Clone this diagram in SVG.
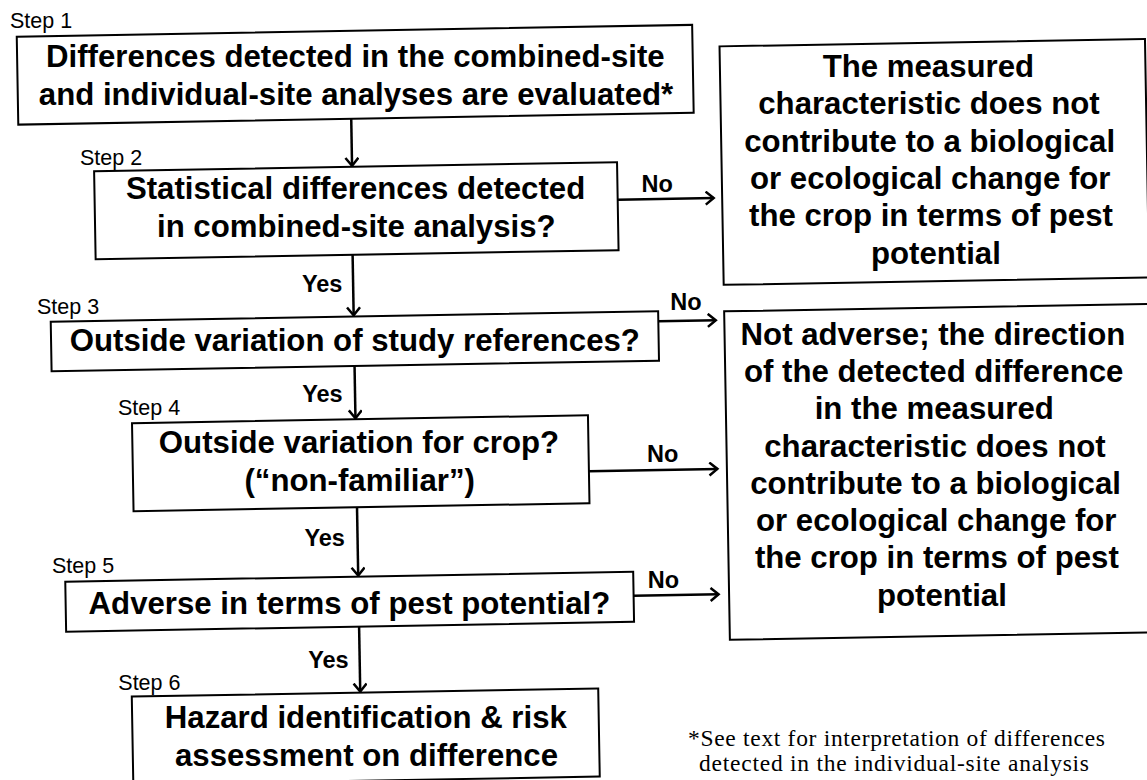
<svg xmlns="http://www.w3.org/2000/svg" width="1147" height="780" viewBox="0 0 1147 780">
<style>
.box{fill:#fff;stroke:#000;stroke-width:2}
.t{font-family:"Liberation Sans",Arial,sans-serif;font-weight:bold;font-size:31.2px;fill:#000;text-anchor:middle}
.lbl{font-family:"Liberation Sans",Arial,sans-serif;font-weight:bold;font-size:23.5px;fill:#000;text-anchor:middle}
.step{font-family:"Liberation Sans",Arial,sans-serif;font-size:21.5px;fill:#000}
.fn{font-family:"Liberation Serif","Times New Roman",serif;font-size:23.5px;fill:#000}
.c{stroke:#000;stroke-width:2.5;fill:none}
</style>
<defs>
<marker id="ah" markerUnits="userSpaceOnUse" markerWidth="14" markerHeight="16" refX="9" refY="7" orient="auto" viewBox="0 0 14 16">
<path d="M1,0.5 L9,7 L1,13.5" fill="none" stroke="#000" stroke-width="2.5"/>
</marker>
</defs>
<rect x="0" y="0" width="1147" height="780" fill="#fff"/>
<g id="connectors">
<g transform="rotate(-1 573 390)">
<line class="c" x1="356" y1="115" x2="356" y2="162" marker-end="url(#ah)"/>
<line class="c" x1="621" y1="200.5" x2="717" y2="200.5" marker-end="url(#ah)"/>
<line class="c" x1="355" y1="251" x2="355" y2="311.5" marker-end="url(#ah)"/>
<line class="c" x1="659.5" y1="322.7" x2="717" y2="322.7" marker-end="url(#ah)"/>
<line class="c" x1="355" y1="362.2" x2="355" y2="414.5" marker-end="url(#ah)"/>
<line class="c" x1="587.5" y1="471.4" x2="716" y2="471.4" marker-end="url(#ah)"/>
<line class="c" x1="355" y1="503.5" x2="355" y2="571.8" marker-end="url(#ah)"/>
<line class="c" x1="630" y1="596.8" x2="715" y2="596.8" marker-end="url(#ah)"/>
<line class="c" x1="355" y1="622.8" x2="355" y2="687.8" marker-end="url(#ah)"/>
</g>
<text class="lbl" x="657.1" y="191.5">No</text>
<text class="lbl" x="322.2" y="291.9">Yes</text>
<text class="lbl" x="686" y="310">No</text>
<text class="lbl" x="322.4" y="401.7">Yes</text>
<text class="lbl" x="662.6" y="461.8">No</text>
<text class="lbl" x="324.7" y="546.4">Yes</text>
<text class="lbl" x="663.5" y="587.5">No</text>
<text class="lbl" x="328.4" y="668">Yes</text>
</g>
<g id="step1">
<text class="step" x="10" y="28">Step 1</text>
<rect class="box" x="23" y="27" width="675.5" height="88" transform="rotate(-1 573 390)"/>
<text class="t" x="355.3" y="66.7">Differences detected in the combined-site</text>
<text class="t" x="356" y="104.5">and individual-site analyses are evaluated*</text>
</g>
<g id="step2">
<text class="step" x="80" y="165">Step 2</text>
<rect class="box" x="98" y="163" width="523" height="88" transform="rotate(-1 573 390)"/>
<text class="t" x="355.6" y="199.2">Statistical differences detected</text>
<text class="t" x="356.3" y="236.9">in combined-site analysis?</text>
</g>
<g id="outcome1">
<rect class="box" x="725.5" y="49" width="425.5" height="238.5" transform="rotate(-1 573 390)"/>
<text class="t">
<tspan x="932.7" y="77.1">The measured</tspan>
<tspan x="933.3" y="114.4">characteristic does not</tspan>
<tspan x="934" y="151.7">contribute to a biological</tspan>
<tspan x="934.6" y="189">or ecological change for</tspan>
<tspan x="935.3" y="226.3">the crop in terms of pest</tspan>
<tspan x="935.9" y="263.6">potential</tspan>
</text>
</g>
<g id="step3">
<text class="step" x="37" y="314">Step 3</text>
<rect class="box" x="52" y="312.7" width="607.5" height="49.5" transform="rotate(-1 573 390)"/>
<text class="t" x="354.8" y="351.1">Outside variation of study references?</text>
</g>
<g id="outcome2">
<rect class="box" x="725.5" y="314" width="425.5" height="328.5" transform="rotate(-1 573 390)"/>
<text class="t">
<tspan x="937.3" y="344.6">Not adverse; the direction</tspan>
<tspan x="938" y="381.9">of the detected difference</tspan>
<tspan x="938.6" y="419.2">in the measured</tspan>
<tspan x="939.3" y="456.5">characteristic does not</tspan>
<tspan x="939.9" y="493.8">contribute to a biological</tspan>
<tspan x="940.6" y="531.1">or ecological change for</tspan>
<tspan x="941.2" y="568.4">the crop in terms of pest</tspan>
<tspan x="941.9" y="605.7">potential</tspan>
</text>
</g>
<g id="step4">
<text class="step" x="118" y="415">Step 4</text>
<rect class="box" x="131.5" y="415.5" width="456" height="88" transform="rotate(-1 573 390)"/>
<text class="t" x="359" y="452.8">Outside variation for crop?</text>
<text class="t" x="359.7" y="490.5">(“non-familiar”)</text>
</g>
<g id="step5">
<text class="step" x="52" y="573.3">Step 5</text>
<rect class="box" x="62" y="572.8" width="568" height="50" transform="rotate(-1 573 390)"/>
<text class="t" x="349.4" y="613.5">Adverse in terms of pest potential?</text>
</g>
<g id="step6">
<text class="step" x="118.3" y="690">Step 6</text>
<rect class="box" x="126.5" y="688.8" width="466.5" height="88.2" transform="rotate(-1 573 390)"/>
<text class="t" x="365.8" y="728.2">Hazard identification &amp; risk</text>
<text class="t" x="366.5" y="766">assessment on difference</text>
</g>
<g id="footnote">
<text class="fn" x="688" y="746" textLength="417" lengthAdjust="spacing">*See text for interpretation of differences</text>
<text class="fn" x="699" y="771" textLength="390" lengthAdjust="spacing">detected in the individual-site analysis</text>
</g>
</svg>
